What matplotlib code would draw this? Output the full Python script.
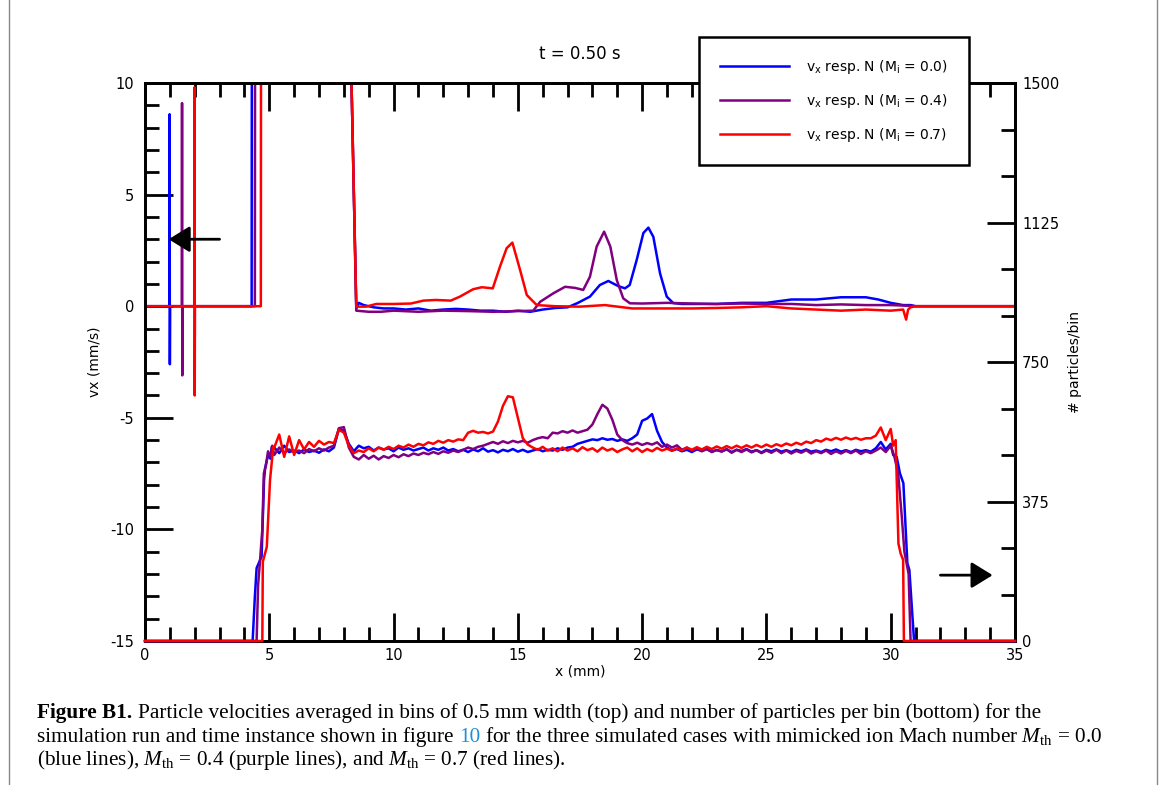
import numpy as np
import matplotlib.pyplot as plt
from matplotlib.ticker import MultipleLocator
from matplotlib.lines import Line2D

plt.rcParams['axes.unicode_minus'] = False
plt.rcParams['mathtext.fontset'] = 'custom'
plt.rcParams['mathtext.rm'] = 'Liberation Serif'
plt.rcParams['mathtext.it'] = 'Liberation Serif:italic'

# ---------------- velocidades (eje izquierdo) ----------------
vx_x_blue = [0, 0.98, 0.99, 1.0, 1.01, 4.29, 4.31, 8.2, 8.27, 8.5,
             8.6, 8.8, 9.2, 9.6, 10, 10.5, 11, 11.5, 12, 12.5,
             13, 13.5, 14, 14.5, 15, 15.5, 16, 16.5, 17, 17.4,
             17.9, 18.3, 18.64, 19.04, 19.31, 19.5, 19.78, 20.05, 20.25, 20.45,
             20.72, 20.99, 21.25, 21.6, 22, 23, 24, 25, 26, 27,
             28, 29, 29.5, 30, 30.5, 30.8, 31, 35]
vx_blue = [0, 0, 8.6, -2.6, 0, 0, 30, 30, 12, -0.1,
           0.15, 0.05, -0.05, -0.1, -0.1, -0.15, -0.1, -0.2, -0.15, -0.12,
           -0.15, -0.2, -0.2, -0.25, -0.2, -0.25, -0.15, -0.08, -0.05, 0.14,
           0.43, 0.95, 1.13, 0.9, 0.8, 0.95, 2.07, 3.28, 3.52, 3.11,
           1.47, 0.43, 0.14, 0.1, 0.1, 0.1, 0.15, 0.15, 0.3, 0.3,
           0.4, 0.4, 0.3, 0.15, 0.05, 0.05, 0, 0]

vx_x_purple = [0, 1.48, 1.49, 1.5, 1.51, 4.42, 4.44, 8.2, 8.27, 8.5,
               9, 9.5, 10, 11, 12, 13, 14, 15, 15.62, 15.9,
               16.43, 16.9, 17.3, 17.63, 17.9, 18.17, 18.47, 18.72, 18.98, 19.24,
               19.51, 20, 21, 22, 23, 24, 25, 26, 27, 28,
               29, 30, 30.5, 31, 35]
vx_purple = [0, 0, 9.1, -3.1, 0, 0, 30, 30, 12, -0.2,
             -0.25, -0.25, -0.2, -0.25, -0.2, -0.22, -0.25, -0.22, -0.2, 0.2,
             0.58, 0.87, 0.82, 0.73, 1.32, 2.67, 3.34, 2.67, 1.17, 0.35,
             0.13, 0.12, 0.15, 0.12, 0.1, 0.12, 0.1, 0.1, 0.05, 0.08,
             0.05, 0.05, 0.03, 0, 0]

vx_x_red = [0, 1.98, 1.99, 2.0, 2.01, 4.66, 4.68, 8.2, 8.27, 8.5,
            8.9, 9.3, 10.0, 10.7, 11.2, 11.7, 12.3, 12.67, 13.2, 13.55,
            13.99, 14.28, 14.55, 14.78, 15.09, 15.36, 15.76, 16.5, 17.5, 18.5,
            19.6, 21, 22, 23, 24, 25, 26, 27, 28, 29,
            30, 30.5, 30.62, 30.7, 30.8, 31, 35]
vx_red = [0, 0, 9.8, -4.0, 0, 0, 30, 30, 12, -0.02,
          -0.02, 0.1, 0.1, 0.12, 0.25, 0.28, 0.25, 0.43, 0.76, 0.85,
          0.8, 1.77, 2.6, 2.85, 1.62, 0.5, 0.05, 0.0, -0.02, 0.05,
          -0.1, -0.1, -0.1, -0.08, -0.05, 0.0, -0.1, -0.15, -0.2, -0.15,
          -0.2, -0.15, -0.6, -0.15, -0.05, 0, 0]

# ---------------- particulas por bin (eje derecho) ----------------
# meseta leida cada 0.2 mm, de 5.2 a 30.0
x_meseta = np.round(np.linspace(5.2, 30.0, 125), 1)

n_blue = [520, 505, 525, 508, 512, 505, 515, 508, 512, 506,
          515, 510, 520, 570, 565, 530, 510, 525, 518, 522,
          512, 520, 515, 518, 510, 520, 514, 518, 512, 516,
          520, 512, 518, 514, 520, 512, 516, 510, 514, 508,
          515, 510, 518, 509, 513, 507, 514, 510, 516, 509,
          514, 508, 512, 516, 510, 514, 512, 518, 514, 520,
          522, 530, 534, 538, 542, 540, 545, 541, 543, 538,
          542, 538, 545, 555, 592, 598, 610, 565, 535, 520,
          512, 516, 510, 514, 508, 515, 511, 516, 509, 513,
          510, 515, 508, 514, 511, 516, 509, 513, 507, 514,
          510, 515, 509, 513, 508, 514, 510, 515, 509, 512,
          508, 514, 510, 515, 509, 513, 508, 514, 510, 513,
          509, 518, 535, 515, 530]
n_purple = [500, 520, 505, 515, 508, 512, 505, 516, 510, 518,
            512, 520, 525, 572, 575, 520, 495, 488, 500, 490,
            498, 488, 497, 492, 500, 494, 502, 497, 504, 500,
            506, 502, 508, 503, 510, 506, 512, 508, 514, 520,
            516, 522, 525, 530, 535, 530, 537, 532, 538, 534,
            538, 533, 540, 545, 548, 545, 560, 558, 564, 560,
            566, 560, 564, 568, 582, 610, 635, 625, 595, 555,
            540, 532, 528, 533, 527, 532, 528, 534, 522, 528,
            520, 526, 514, 520, 512, 518, 510, 516, 508, 514,
            509, 516, 506, 514, 508, 515, 507, 513, 505, 512,
            506, 514, 505, 512, 504, 511, 506, 513, 504, 510,
            505, 512, 503, 510, 504, 511, 505, 512, 503, 510,
            505, 512, 520, 508, 525]
n_red = [520, 555, 495, 550, 500, 540, 515, 535, 522, 538,
         528, 535, 532, 568, 560, 525, 505, 512, 508, 518,
         510, 520, 514, 522, 516, 525, 520, 528, 522, 530,
         526, 534, 530, 538, 533, 540, 536, 542, 540, 560,
         565, 560, 562, 558, 563, 590, 632, 658, 655, 600,
         545, 528, 520, 514, 522, 512, 518, 510, 520, 512,
         518, 510, 521, 513, 518, 509, 520, 512, 517, 508,
         515, 520, 510, 518, 508, 516, 510, 519, 512, 517,
         511, 518, 512, 520, 514, 521, 515, 522, 516, 523,
         517, 524, 518, 525, 519, 526, 520, 527, 521, 528,
         522, 529, 524, 531, 526, 533, 528, 536, 532, 540,
         536, 544, 540, 546, 541, 547, 542, 546, 541, 545,
         545, 552, 574, 540, 570]

# flancos (subida a la izquierda, caida a la derecha)
n_izq_x_blue = [0, 4.33, 4.42, 4.49, 4.69, 4.79, 4.83, 4.95, 5.05, 5.1]
n_izq_blue = [0, 0, 120, 196, 227, 433, 464, 500, 490, 522]
n_der_x_blue = [30.1, 30.24, 30.37, 30.51, 30.67, 30.75, 30.94, 35]
n_der_blue = [500, 495, 451, 424, 209, 191, 0, 0]

n_izq_x_purple = [0, 4.49, 4.55, 4.63, 4.72, 4.78, 4.86, 4.95, 5.05, 5.12]
n_izq_purple = [0, 0, 150, 218, 300, 450, 470, 510, 495, 525]
n_der_x_purple = [30.15, 30.3, 30.45, 30.55, 30.62, 30.72, 30.8, 35]
n_der_purple = [495, 450, 330, 240, 215, 180, 0, 0]

n_izq_x_red = [0, 4.72, 4.74, 4.9, 5.03, 5.1, 5.16]
n_izq_red = [0, 0, 213, 253, 433, 480, 522]
n_der_x_red = [30.1, 30.2, 30.31, 30.4, 30.5, 30.53, 35]
n_der_red = [525, 540, 262, 235, 218, 0, 0]

colores = {'blue': '#0000ff', 'purple': '#800080', 'red': '#ff0000'}
etiquetas = {'blue': '0.0', 'purple': '0.4', 'red': '0.7'}

vel = {'blue': (vx_x_blue, vx_blue), 'purple': (vx_x_purple, vx_purple), 'red': (vx_x_red, vx_red)}
cnt = {'blue': (n_izq_x_blue, n_izq_blue, n_blue, n_der_x_blue, n_der_blue),
       'purple': (n_izq_x_purple, n_izq_purple, n_purple, n_der_x_purple, n_der_purple),
       'red': (n_izq_x_red, n_izq_red, n_red, n_der_x_red, n_der_red)}

fig = plt.figure(figsize=(11.65, 7.85), dpi=100)
ax = fig.add_axes([145/1165, 1 - 641/785, 870/1165, 558/785])
ax2 = ax.twinx()

lineas = []
for c in ['blue', 'purple', 'red']:
    xv, yv = vel[c]
    l, = ax.plot(xv, yv, color=colores[c], lw=1.8,
                 label=r'v$_\mathregular{x}$ resp. N (M$_\mathregular{i}$ = ' + etiquetas[c] + ')')
    lineas.append(l)
    xi, yi, ym, xd, yd = cnt[c]
    xx = np.concatenate([xi, x_meseta, xd])
    yy = np.concatenate([yi, ym, yd])
    ax2.plot(xx, yy, color=colores[c], lw=1.8, clip_on=False, zorder=3)

ax.set_xlim(0, 35)
ax.set_ylim(-15, 10)
ax2.set_ylim(0, 1500)

ax.xaxis.set_major_locator(MultipleLocator(5))
ax.xaxis.set_minor_locator(MultipleLocator(1))
ax.yaxis.set_major_locator(MultipleLocator(5))
ax.yaxis.set_minor_locator(MultipleLocator(1))
ax2.yaxis.set_major_locator(MultipleLocator(375))
ax2.yaxis.set_minor_locator(MultipleLocator(125))

ax.tick_params(which='both', direction='in', top=True, bottom=True, left=True, right=False,
               width=2, labelsize=10.5)
ax.tick_params(which='major', length=20)
ax.tick_params(which='minor', length=10)
ax.tick_params(axis='y', pad=8)
ax.tick_params(axis='x', pad=5)
ax2.tick_params(which='both', direction='in', right=True, left=False, width=2, labelsize=10.5, pad=5)
ax2.tick_params(which='major', length=20)
ax2.tick_params(which='minor', length=10)

for a in (ax, ax2):
    for s in a.spines.values():
        s.set_linewidth(2)

ax.set_xlabel('x (mm)', fontsize=10, labelpad=1)
ax.set_ylabel('vx (mm/s)', fontsize=10, labelpad=6)
ax2.set_ylabel('# particles/bin', fontsize=10, labelpad=6, rotation=90)
ax.set_title('t = 0.50 s', fontsize=12, pad=17)

# flechas que indican a que eje pertenece cada grupo de curvas
estilo = '-|>,head_length=0.65,head_width=0.4'
ax.annotate('', xy=(0.95, 3.0), xytext=(3.0, 3.0),
            arrowprops=dict(arrowstyle=estilo, color='k', lw=2,
                            mutation_scale=20, shrinkA=0, shrinkB=0))
ax2.annotate('', xy=(34.1, 177), xytext=(32.0, 177),
             arrowprops=dict(arrowstyle=estilo, color='k', lw=2,
                             mutation_scale=20, shrinkA=0, shrinkB=0))

leg = fig.legend(handles=lineas, loc='upper left', bbox_to_anchor=(699/1165, 1 - 37/785),
                 borderaxespad=0, fontsize=10, handlelength=5, handletextpad=1.2,
                 labelspacing=1.15, borderpad=1.5, fancybox=False, framealpha=1, edgecolor='k')
leg.get_frame().set_linewidth(1.8)

# marco de la pagina
fig.add_artist(Line2D([9/1165, 9/1165], [0, 1], color='#888888', lw=1))
fig.add_artist(Line2D([1157/1165, 1157/1165], [0, 1], color='#888888', lw=1))

# pie de figura
fig.canvas.draw()
r = fig.canvas.get_renderer()
fuente = dict(family='Liberation Serif', fontsize=15.3, va='baseline', ha='left')


def ancho(s, **kw):
    t = fig.text(0, 0, s, transform=None, **{**fuente, **kw})
    w = t.get_window_extent(r).width
    t.remove()
    return w


esp = ancho('x x') - ancho('xx')


def linea(piezas, x, y):
    for s, kw in piezas:
        t = fig.text(x, y, s, transform=None, **{**fuente, **kw})
        x += t.get_window_extent(r).width + esp


linea([('Figure B1.', dict(weight='bold')),
       ('Particle velocities averaged in bins of 0.5 mm width (top) and number of particles per bin (bottom) for the', {})],
      37, 785 - 718)
linea([('simulation run and time instance shown in figure', {}),
       ('10', dict(color='#1f8fd6')),
       (r'for the three simulated cases with mimicked ion Mach number $M_\mathrm{th}$ = 0.0', {})],
      37, 785 - 742)
linea([(r'(blue lines), $M_\mathrm{th}$ = 0.4 (purple lines), and $M_\mathrm{th}$ = 0.7 (red lines).', {})],
      37, 785 - 765)

fig.savefig('out.png', dpi=100)
